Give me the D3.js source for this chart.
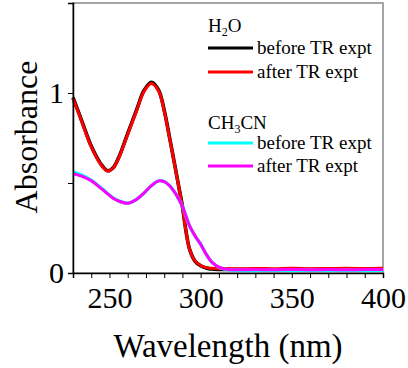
<!DOCTYPE html>
<html>
<head>
<meta charset="utf-8">
<script src="https://cdn.jsdelivr.net/npm/d3@7"></script>
<style>
  body { margin: 0; background: #fff; }
</style>
</head>
<body>
<div id="chart"></div>
<script>
// wavelength grid (nm) shared by all spectra
const wavelengths = [230, 235, 240, 245, 249, 252, 255, 260, 265, 269, 273, 277, 280, 283, 286, 288, 290, 292, 294, 297, 300, 303, 306, 310, 315, 320, 330, 340, 350, 360, 370, 380, 390, 400];

// H2O spectra
const h2oBefore = [0.975, 0.84, 0.705, 0.61, 0.568, 0.585, 0.64, 0.775, 0.91, 1.015, 1.06, 1.015, 0.905, 0.75, 0.59, 0.48, 0.37, 0.23, 0.13, 0.065, 0.04, 0.028, 0.022, 0.02, 0.02, 0.019, 0.02, 0.018, 0.02, 0.019, 0.02, 0.019, 0.02, 0.02];
const h2oAfter  = [0.97, 0.835, 0.70, 0.607, 0.566, 0.583, 0.637, 0.77, 0.905, 1.01, 1.053, 1.01, 0.9, 0.747, 0.587, 0.478, 0.368, 0.23, 0.13, 0.066, 0.042, 0.03, 0.026, 0.024, 0.025, 0.023, 0.025, 0.024, 0.026, 0.024, 0.025, 0.026, 0.025, 0.026];

// CH3CN spectra
const mecnBefore = [0.562, 0.543, 0.516, 0.476, 0.442, 0.417, 0.401, 0.388, 0.41, 0.445, 0.485, 0.512, 0.508, 0.485, 0.445, 0.41, 0.37, 0.315, 0.26, 0.205, 0.16, 0.105, 0.062, 0.032, 0.018, 0.015, 0.014, 0.015, 0.014, 0.015, 0.014, 0.015, 0.014, 0.015];
const mecnAfter  = [0.552, 0.537, 0.512, 0.473, 0.44, 0.415, 0.40, 0.387, 0.41, 0.445, 0.485, 0.512, 0.508, 0.485, 0.445, 0.41, 0.37, 0.315, 0.26, 0.205, 0.16, 0.105, 0.062, 0.033, 0.02, 0.018, 0.019, 0.018, 0.02, 0.018, 0.019, 0.018, 0.019, 0.019];

const xTicks = [250, 300, 350, 400];
const yTicks = [0, 1];

const FONT = "'Liberation Serif', 'Times New Roman', serif";

function init() {
    const width = 408;
    const height = 368;
    const margin = {top: 3, right: 25, bottom: 95, left: 73};
    const plotW = width - margin.left - margin.right;
    const plotH = height - margin.top - margin.bottom;

    const svg = d3.select("#chart")
        .append("svg")
        .attr("width", width)
        .attr("height", height)
        .attr("font-family", FONT);

    const g = svg.append("g")
        .attr("transform", `translate(${margin.left},${margin.top})`);

    const x = d3.scaleLinear().domain([230, 400]).range([0, plotW]);
    const y = d3.scaleLinear().domain([0, 1.5]).range([plotH, 0]);

    // frame
    g.append("rect")
        .attr("width", plotW)
        .attr("height", plotH)
        .attr("fill", "none")
        .attr("stroke", "#888")
        .attr("stroke-width", 1.5);

    // lines
    const line = d3.line()
        .x((d, i) => x(wavelengths[i]))
        .y(d => y(d))
        .curve(d3.curveCatmullRom.alpha(0.5));

    const series = [
        {data: h2oBefore, color: "#000000", w: 3.6},
        {data: h2oAfter, color: "#ff0000", w: 3},
        {data: mecnBefore, color: "#00ffff", w: 3.4},
        {data: mecnAfter, color: "#ff00ff", w: 3}
    ];

    g.selectAll("path.spec")
        .data(series)
        .enter().append("path")
        .attr("class", "spec")
        .attr("d", d => line(d.data))
        .attr("fill", "none")
        .attr("stroke", d => d.color)
        .attr("stroke-width", d => d.w);

    // x axis with minor ticks every 10 nm
    const xAxis = g.append("g")
        .attr("transform", `translate(0,${plotH})`)
        .call(d3.axisBottom(x).tickValues(d3.range(230, 401, 10)).tickSize(5)
            .tickFormat(d => xTicks.includes(d) ? d : ""));
    xAxis.attr("font-family", FONT);
    xAxis.select(".domain").attr("stroke", "#000").attr("stroke-width", 1.5);
    xAxis.selectAll("text").attr("font-size", 30).attr("fill", "#000").attr("dy", "0.9em");

    const yAxis = g.append("g")
        .call(d3.axisLeft(y).tickValues([0, 0.5, 1]).tickSize(5)
            .tickFormat(d => yTicks.includes(d) ? d : ""));
    yAxis.attr("font-family", FONT);
    yAxis.select(".domain").attr("stroke", "#000").attr("stroke-width", 1.5);
    yAxis.selectAll("text").attr("font-size", 30).attr("fill", "#000").attr("x", -9);

    // axis titles
    svg.append("text")
        .attr("x", 228)
        .attr("y", 357)
        .attr("text-anchor", "middle")
        .attr("font-size", 33)
        .text("Wavelength (nm)");

    svg.append("text")
        .attr("transform", "translate(37,137) rotate(-90)")
        .attr("text-anchor", "middle")
        .attr("font-size", 32)
        .text("Absorbance");

    // legend
    const legend = svg.append("g").attr("font-size", 19);

    const h2oTitle = legend.append("text").attr("x", 208).attr("y", 32);
    h2oTitle.append("tspan").text("H");
    h2oTitle.append("tspan").attr("font-size", 12).attr("dy", 4).text("2");
    h2oTitle.append("tspan").attr("dy", -4).text("O");

    const mecnTitle = legend.append("text").attr("x", 208).attr("y", 129);
    mecnTitle.append("tspan").text("CH");
    mecnTitle.append("tspan").attr("font-size", 12).attr("dy", 4).text("3");
    mecnTitle.append("tspan").attr("dy", -4).text("CN");

    const entries = [
        {label: "before TR expt", color: "#000000", y: 48},
        {label: "after TR expt", color: "#ff0000", y: 72},
        {label: "before TR expt", color: "#00ffff", y: 143},
        {label: "after TR expt", color: "#ff00ff", y: 166}
    ];

    entries.forEach(e => {
        legend.append("line")
            .attr("x1", 208).attr("x2", 253)
            .attr("y1", e.y).attr("y2", e.y)
            .attr("stroke", e.color)
            .attr("stroke-width", 3);
        legend.append("text")
            .attr("x", 257)
            .attr("y", e.y + 6)
            .text(e.label);
    });
}
window.onload = init;
</script>
</body>
</html>
